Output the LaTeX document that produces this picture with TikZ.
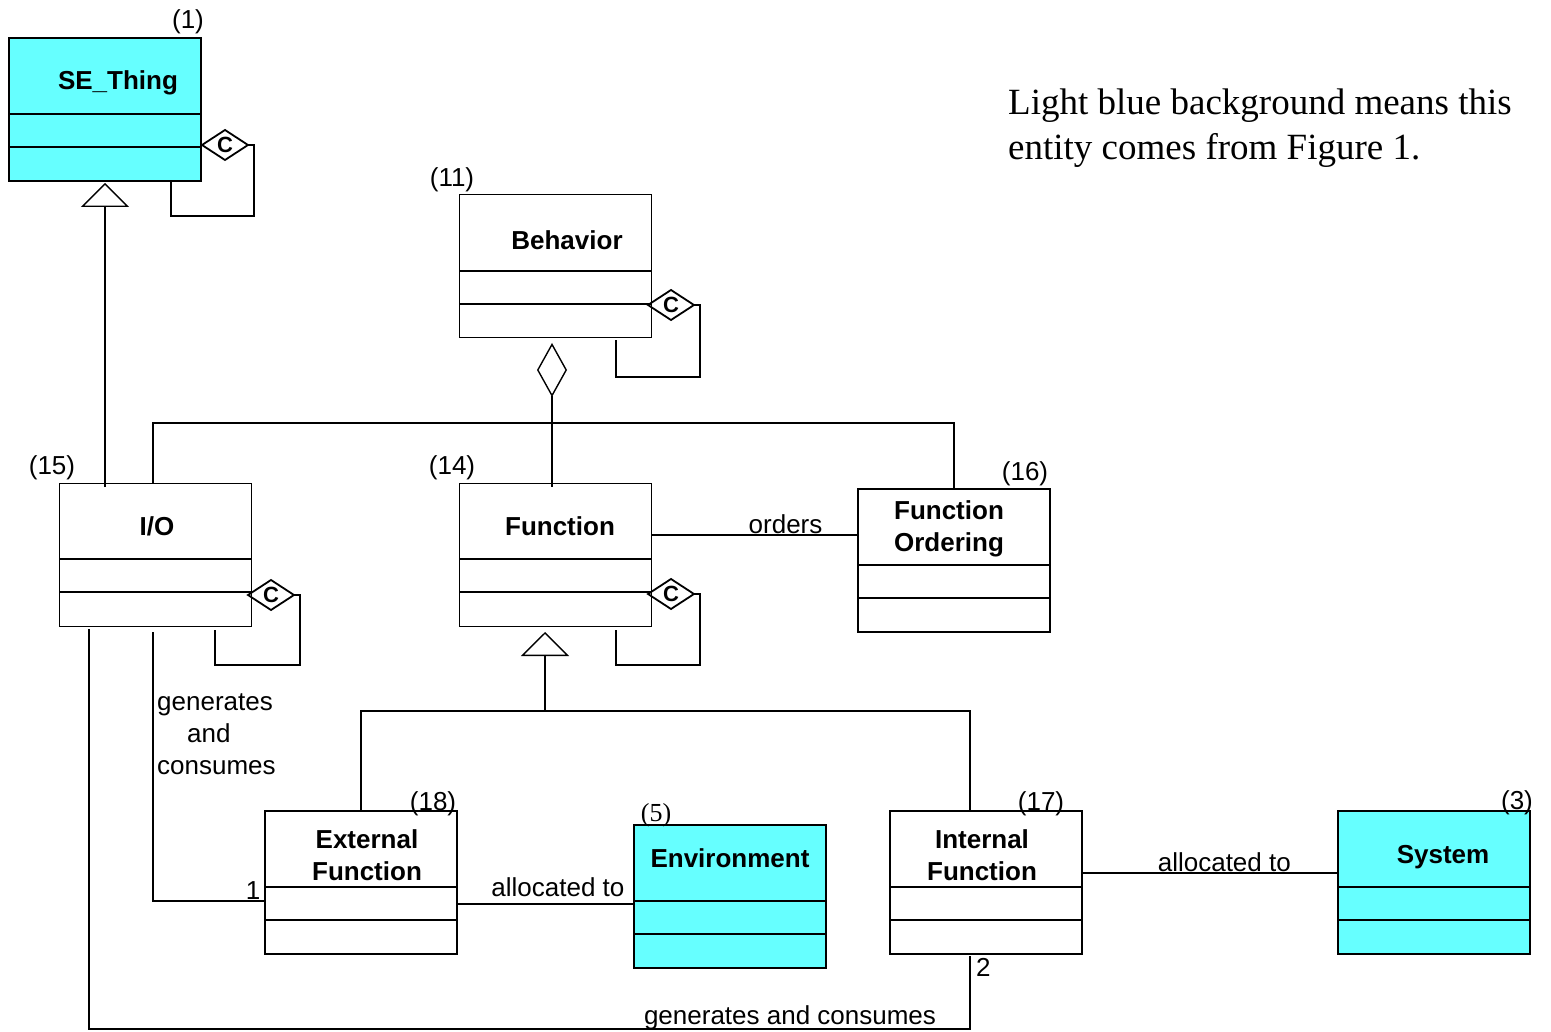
\documentclass[tikz,border=0pt]{standalone}
\usepackage{fontspec}
\setmainfont{Liberation Sans}
\newfontfamily\romfont{Liberation Serif}
\usetikzlibrary{positioning,arrows.meta,calc,shapes.geometric}
\definecolor{lblue}{RGB}{102,255,255}
\tikzset{
 klass/.style={draw,line width=1.6pt,anchor=north west,minimum width=192pt,minimum height=143pt,inner sep=0pt,outer sep=0pt},
 lite/.style={line width=1pt},
 ttl/.style={font=\fontsize{26}{32}\selectfont\bfseries,align=center,inner sep=0pt},
 num/.style={font=\fontsize{26}{30}\selectfont,anchor=base,inner sep=0pt},
 lbl/.style={font=\fontsize{26}{32}\selectfont,inner sep=1pt},
 cdia/.style={draw,diamond,aspect=1.5,line width=1.8pt,minimum width=46pt,minimum height=30pt,inner sep=0pt,outer sep=0pt,anchor=west,font=\fontsize{22}{22}\selectfont\bfseries},
 link/.style={line width=1.4pt},
 gentip/.style={-{Triangle[open,length=24pt,width=48pt,line width=1.4pt]}},
}
\begin{document}
\begin{tikzpicture}[x=1pt,y=-1pt]
\useasboundingbox (0,0) rectangle (1551,1032);
% classes
\node[klass,fill=lblue] (thing) at (9,38) {};
\node[klass,lite] (behav) at (459,195) {};
\node[klass,lite] (io) at (59,483) {};
\node[klass,lite] (func) at (459,483) {};
\node[klass] (ford) at (858,489) {};
\node[klass] (extf) at (265,811) {};
\node[klass,fill=lblue] (env) at (634,825) {};
\node[klass] (intf) at (890,811) {};
\node[klass,fill=lblue] (sys) at (1338,811) {};
\foreach \c in {thing,behav,io,func,ford,extf,env,intf,sys}{
 \draw[line width=1.6pt] ([yshift=-76pt]\c.north west) -- ([yshift=-76pt]\c.north east);
 \draw[line width=1.6pt] ([yshift=34pt]\c.south west) -- ([yshift=34pt]\c.south east);
}
\node[ttl] (thingT) at (118,83) {SE\_Thing};
\node[ttl] (behavT) at (567,240) {Behavior};
\node[ttl] (ioT) at (157,526) {I/O};
\node[ttl] (funcT) at (560,526) {Function};
\node[ttl] (fordT) at (949,529) {Function\\Ordering};
\node[ttl] (extfT) at (367,855) {External\\Function};
\node[ttl] (envT) at (730,858) {Environment};
\node[ttl] (intfT) at (982,855) {Internal\\Function};
\node[ttl] (sysT) at (1443,857) {System};
% numbers
\node[num] (n1) at (188,29) {(1)};
\node[num] (n11) at (452,187) {(11)};
\node[num] (n15) at (52,474) {(15)};
\node[num] (n14) at (452,474) {(14)};
\node[num] (n16) at (1025,480) {(16)};
\node[num] (n18) at (433,810) {(18)};
\node[num] (n17) at (1041,810) {(17)};
\node[num] (n3) at (1517,809) {(3)};
\node[num,font=\romfont\fontsize{26}{30}\selectfont] (n5) at (656,821) {(5)};
% self loops
\node[cdia] (thingC) at (202,145) {C};
\node[cdia] (behavC) at (648,305) {C};
\node[cdia] (ioC) at (248,595) {C};
\node[cdia] (funcC) at (648,594) {C};
\draw[link] (thingC.east) -- ++(6,0) -- ++(0,71) -| ([xshift=66pt]thing.south);
\draw[link] (behavC.east) -- ++(6,0) -- ++(0,72) -| ([xshift=61pt,yshift=-2pt]behav.south);
\draw[link] (ioC.east) -- ++(6,0) -- ++(0,70) -| ([xshift=60pt,yshift=-4pt]io.south);
\draw[link] (funcC.east) -- ++(6,0) -- ++(0,71) -| ([xshift=61pt,yshift=-4pt]func.south);
% aggregation and generalization
\draw[link,{Diamond[open,length=54pt,width=30pt,line width=1.4pt]}-,shorten <=5pt] ([xshift=-3pt]behav.south) -- ([xshift=-3pt,yshift=-4pt]func.north);
\draw[link,gentip] ([xshift=-50pt,yshift=-4pt]io.north) -- ([yshift=-2pt]thing.south);
\draw[link] ([xshift=-2pt]io.north) -- ++(0,-60) -| (ford.north);
\coordinate (fork) at (545,711);
\draw[link] (extf.north) |- (fork) -| ([xshift=-16pt]intf.north);
\draw[link,gentip] (fork) -- ([xshift=-10pt,yshift=-6pt]func.south);
% associations
\draw[link] (func.east |- 0,535) -- node[lbl,above,pos=.65] (ordL) {orders} (ford.west |- 0,535);
\draw[link] ([xshift=-2pt,yshift=-6pt]io.south) |- (extf.west |- 0,901) node[lbl,above left,xshift=-3pt] (oneL) {1};
\node[lbl,anchor=north west,align=left,inner sep=0pt] (genL) at (157,693) {generates\\\hspace*{30pt}and\\consumes};
\draw[link] ([xshift=30pt,yshift=-3pt]io.south west) -- ++(0,400) -| ([xshift=-16pt,yshift=-2pt]intf.south);
\node[lbl,anchor=north west,inner sep=0pt] (twoL) at (976,958) {2};
\node[lbl,anchor=base,inner sep=0pt] (gcL) at (790,1024) {generates and consumes};
\draw[link] (extf.east |- 0,904) -- node[lbl,above=6pt,pos=.57] (allocA) {allocated to} (env.west |- 0,904);
\draw[link] (intf.east |- 0,873) -- node[lbl,above,pos=.556] (allocB) {allocated to} (sys.west |- 0,873);
% note
\node[anchor=north west,align=left,inner sep=0pt,font=\romfont\fontsize{37}{45}\selectfont] (note) at (1008,89) {Light blue background means this\\entity comes from Figure 1.};
\end{tikzpicture}
\end{document}
